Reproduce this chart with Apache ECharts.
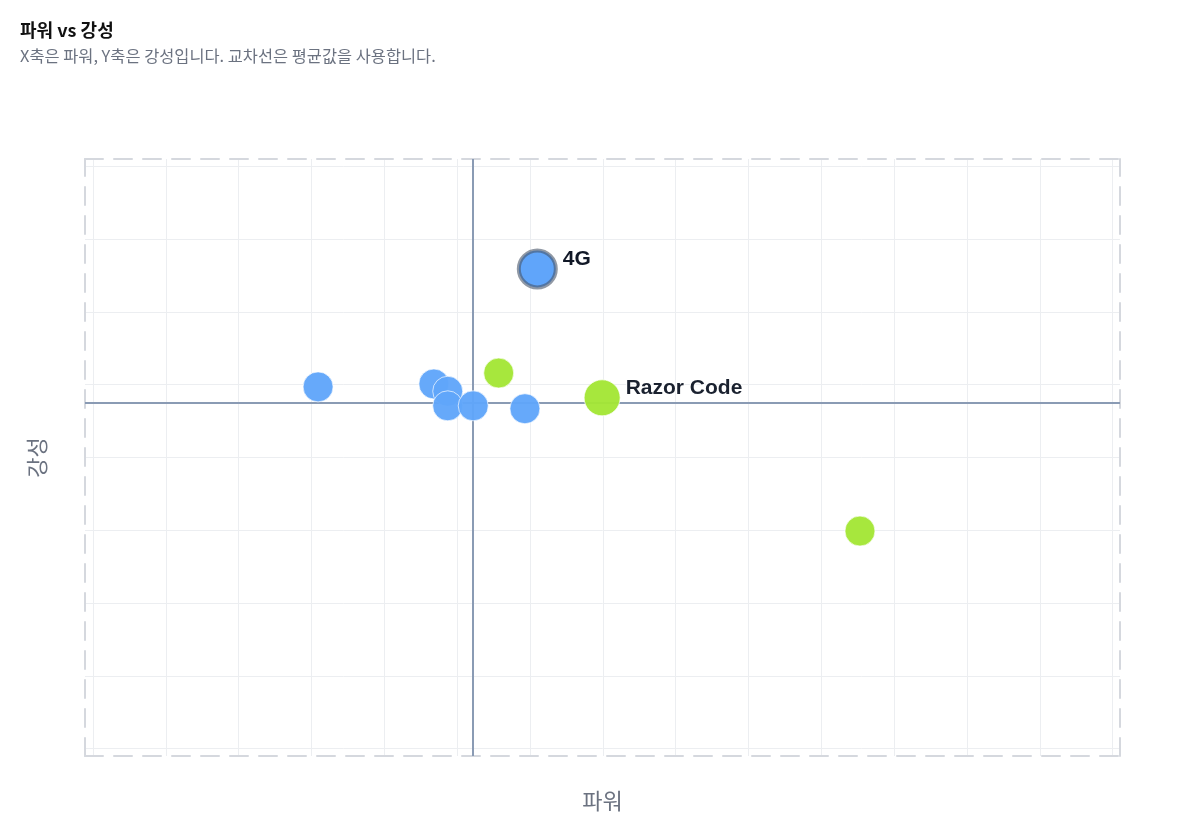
<!DOCTYPE html>
<html>
<head>
<meta charset="utf-8">
<script src="https://cdn.jsdelivr.net/npm/echarts@6/dist/echarts.min.js"></script>
<style>
html,body{margin:0;padding:0;background:#fff;}
#chart{width:1200px;height:829px;}
</style>
</head>
<body>
<div id="chart"></div>
<script>
// ---- data ----
const blueNames = ['4G', '', '', '', '', '', ''];
const bluePower = [61.0, 30.9, 46.8, 48.7, 48.7, 52.2, 59.3];
const blueStiffness = [65.9, 49.7, 50.1, 49.1, 47.1, 47.1, 46.7];
const blueSizes = [37, 30, 30, 30, 30, 30, 30];

const greenNames = ['', 'Razor Code', ''];
const greenPower = [55.7, 69.9, 105.3];
const greenStiffness = [51.6, 48.2, 29.9];
const greenSizes = [30, 36, 30];

const avgPower = 52.2;      // 평균 파워 (교차선)
const avgStiffness = 47.5;  // 평균 강성 (교차선)

const titleText = '파워 vs 강성';
const subtitleText = 'X축은 파워, Y축은 강성입니다. 교차선은 평균값을 사용합니다.';
const xName = '파워';
const yName = '강성';

const xRange = [-1.1, 141];
const yRange = [-1, 81];

// ---- build ----
const labelStyle = {
  show: true, position: 'right', distance: 5, offset: [0, -10],
  formatter: p => p.name,
  fontFamily: "'Liberation Sans', Arial, sans-serif",
  fontWeight: 'bold', fontSize: 21, color: '#111827',
  textBorderColor: '#ffffff', textBorderWidth: 2
};

function buildData(names, xs, ys, sizes, color) {
  return xs.map((x, i) => {
    const d = { name: names[i], value: [x, ys[i]], symbolSize: sizes[i] };
    if (names[i]) {
      d.label = labelStyle;
      if (names[i] === '4G') {
        d.itemStyle = { color: color, borderColor: 'rgba(71,85,105,0.6)', borderWidth: 4, opacity: 1 };
      }
    }
    return d;
  });
}

const dashed = { color: '#d5d8de', width: 2, type: [18, 11] };
const splitStyle = { color: '#eceef1', width: 1 };
const sans = "'Noto Sans CJK KR', 'Noto Sans', sans-serif";

const chart = echarts.init(document.getElementById('chart'));
chart.setOption({
  animation: false,
  backgroundColor: '#ffffff',
  title: {
    left: 20, top: 21, padding: 0,
    text: titleText,
    subtext: subtitleText,
    itemGap: 9,
    textStyle: { fontFamily: sans, fontSize: 18, fontWeight: 'bold', color: '#111111' },
    subtextStyle: { fontFamily: sans, fontSize: 16.4, color: '#6b7280' }
  },
  grid: { left: 85, right: 80, top: 159, bottom: 73, containLabel: false },
  xAxis: [
    {
      type: 'value', min: xRange[0], max: xRange[1], minInterval: 10, maxInterval: 10,
      position: 'bottom',
      name: xName, nameLocation: 'middle', nameGap: 34,
      nameTextStyle: { fontFamily: sans, fontSize: 22, color: '#6b7280' },
      axisLine: { show: true, onZero: false, lineStyle: dashed },
      axisTick: { show: false }, axisLabel: { show: false },
      splitLine: { show: true, showMinLine: false, showMaxLine: false, lineStyle: splitStyle }
    },
    {
      type: 'value', min: xRange[0], max: xRange[1], position: 'top',
      axisLine: { show: true, onZero: false, lineStyle: dashed },
      axisTick: { show: false }, axisLabel: { show: false }, splitLine: { show: false }
    }
  ],
  yAxis: [
    {
      type: 'value', min: yRange[0], max: yRange[1], minInterval: 10, maxInterval: 10,
      position: 'left',
      name: yName, nameLocation: 'middle', nameGap: 37, nameRotate: 90,
      nameTextStyle: { fontFamily: sans, fontSize: 22, color: '#6b7280' },
      axisLine: { show: true, onZero: false, lineStyle: dashed },
      axisTick: { show: false }, axisLabel: { show: false },
      splitLine: { show: true, showMinLine: false, showMaxLine: false, lineStyle: splitStyle }
    },
    {
      type: 'value', min: yRange[0], max: yRange[1], position: 'right',
      axisLine: { show: true, onZero: false, lineStyle: dashed },
      axisTick: { show: false }, axisLabel: { show: false }, splitLine: { show: false }
    }
  ],
  series: [
    {
      type: 'scatter', data: [], z: 1, silent: true,
      markLine: {
        z: 1, silent: true, symbol: 'none', animation: false,
        label: { show: false },
        lineStyle: { color: '#8a9bb4', width: 2, type: 'solid' },
        data: [{ xAxis: avgPower }, { yAxis: avgStiffness }]
      }
    },
    {
      type: 'scatter', z: 3,
      itemStyle: { color: '#60a5fa', borderColor: 'rgba(255,255,255,0.7)', borderWidth: 1, opacity: 0.96 },
      data: buildData(blueNames, bluePower, blueStiffness, blueSizes, '#60a5fa')
    },
    {
      type: 'scatter', z: 3,
      itemStyle: { color: '#a3e635', borderColor: 'rgba(255,255,255,0.7)', borderWidth: 1, opacity: 0.96 },
      data: buildData(greenNames, greenPower, greenStiffness, greenSizes, '#a3e635')
    }
  ]
});
</script>
</body>
</html>
